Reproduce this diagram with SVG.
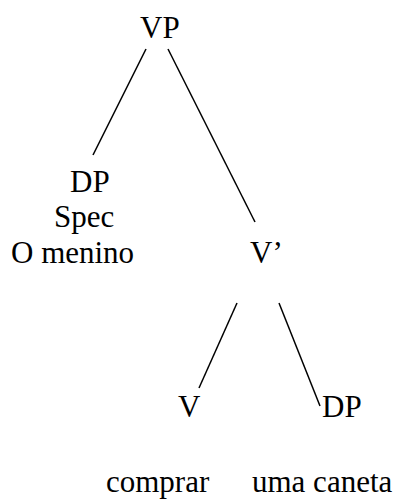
<svg xmlns="http://www.w3.org/2000/svg" width="401" height="499" viewBox="0 0 401 499">
<style>
text{font-family:"Liberation Serif","Times New Roman",serif;font-size:31px;fill:#000}
line{stroke:#000;stroke-width:1.5}
</style>
<rect width="401" height="499" fill="#fff"/>
<g id="connectors">
<line x1="146" y1="49" x2="93" y2="155"/>
<line x1="168" y1="49" x2="255" y2="222"/>
<line x1="237" y1="303" x2="199" y2="388"/>
<line x1="279" y1="303" x2="320" y2="406"/>
</g>
<g id="VP"><text x="140" y="38">VP</text></g>
<g id="DP-spec">
<text x="70" y="192">DP</text>
<text x="54" y="227">Spec</text>
<text x="11" y="263">O menino</text>
</g>
<g id="Vbar"><text x="250" y="263">V’</text></g>
<g id="V"><text x="178" y="417">V</text></g>
<g id="DP-obj"><text x="322" y="417">DP</text></g>
<g id="comprar"><text x="106" y="492">comprar</text></g>
<g id="uma-caneta"><text x="252" y="492">uma caneta</text></g>
</svg>
